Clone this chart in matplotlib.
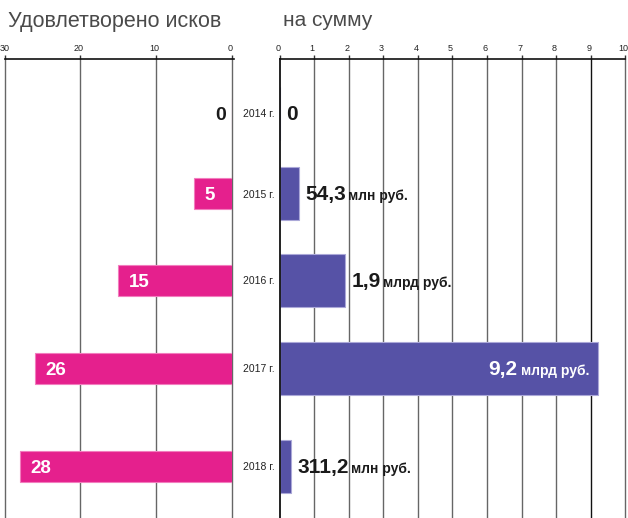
import matplotlib
matplotlib.use("Agg")
import matplotlib.pyplot as plt
from matplotlib.transforms import ScaledTranslation

plt.rcParams['font.family'] = ['Liberation Sans', 'DejaVu Sans']

# ---- data ----
years = ['2014 г.', '2015 г.', '2016 г.', '2017 г.', '2018 г.']
claims = [0, 5, 15, 26, 28]
amount_bar = [0, 0.55, 1.9, 9.2, 0.33]          # bar lengths as drawn (млрд руб. scale)
amount_num = ['0', '54,3', '1,9', '9,2', '311,2']
amount_unit = ['', 'млн руб.', 'млрд руб.', 'млрд руб.', 'млн руб.']
left_ticks = [30, 20, 10, 0]
right_ticks = list(range(0, 11))

# ---- layout ----
W, H = 628, 518
ROW_Y = [113, 193.5, 280.5, 368.5, 466.5]   # row centres (pixel-like y scale)
TOP = 59
PINK = '#E5208D'
PINK_EDGE = '#F27DBE'
PURPLE = '#5652A6'
PURPLE_EDGE = '#ABA8D8'
GRID = '#666666'

fig = plt.figure(figsize=(W / 100, H / 100), dpi=100)
fig.patch.set_facecolor('white')

axL = fig.add_axes([4.5 / W, 0, (232 - 4.5) / W, (H - TOP) / H])
axR = fig.add_axes([279.7 / W, 0, (625.2 - 279.7) / W, (H - TOP) / H])

for ax in (axL, axR):
    ax.set_ylim(H, TOP)
    ax.set_yticks([])
    for s in ('left', 'right', 'bottom'):
        ax.spines[s].set_visible(False)
    ax.spines['top'].set_linewidth(1.2)
    ax.spines['top'].set_color('#111111')
    ax.xaxis.tick_top()
    ax.tick_params(axis='x', length=3, width=1, color='#333333', pad=1,
                   labelsize=6.5, labelcolor='#222222', direction='out')
    ax.set_facecolor('none')

# left panel
axL.set_xlim(30, 0)
axL.set_xticks(left_ticks)
axL.spines['top'].set_bounds(30, -0.3)
for t in left_ticks:
    axL.axvline(t, color=GRID, lw=1.0, zorder=0, clip_on=False)
axL.barh(ROW_Y, claims, height=31, color=PINK, edgecolor=PINK_EDGE, lw=0.8, zorder=2)
for y, v in zip(ROW_Y, claims):
    if v == 0:
        axL.annotate(str(v), xy=(0, y), xytext=(-4, 0), textcoords='offset points',
                     ha='right', va='center_baseline', fontsize=14, fontweight='bold',
                     color='#1a1a1a')
    else:
        axL.annotate(str(v), xy=(v, y), xytext=(7.5, 0), textcoords='offset points',
                     ha='left', va='center_baseline', fontsize=13.5, fontweight='bold',
                     color='white', zorder=3)

# right panel
axR.set_xlim(0, 10)
axR.set_xticks(right_ticks)
for t in right_ticks[1:]:
    axR.axvline(t, color='#111111' if t == 9 else GRID, lw=1.0, zorder=0, clip_on=False)
axR.axvline(0, color='#111111', lw=1.3, zorder=3, clip_on=False)
axR.barh(ROW_Y, amount_bar, height=53, color=PURPLE, edgecolor=PURPLE_EDGE, lw=0.8, zorder=2)

# shift tick labels slightly left as in the reference (except the leftmost "30")
for ax in (axL, axR):
    for i, lab in enumerate(ax.get_xticklabels()):
        if ax is axL and i == 0:
            continue
        lab.set_transform(lab.get_transform() + ScaledTranslation(-2 / 100, 0, fig.dpi_scale_trans))

for y, yr in zip(ROW_Y, years):
    axR.annotate(yr, xy=(0, y), xytext=(-3.5, 0), textcoords='offset points',
                 ha='right', va='center_baseline', fontsize=7.5, color='#222222')

for y, v, num, unit in zip(ROW_Y, amount_bar, amount_num, amount_unit):
    inside = v > 5
    col = 'white' if inside else '#1a1a1a'
    if inside:
        u = axR.annotate(unit, xy=(v, y), xytext=(-6, -5), textcoords='offset points',
                         ha='right', va='baseline', fontsize=10, fontweight='bold',
                         color=col, zorder=4)
        axR.annotate(num, xy=(0, y), xycoords=(u, 'data'), xytext=(-2.5, -5),
                     textcoords='offset points', ha='right', va='baseline',
                     fontsize=15, fontweight='bold', color=col, zorder=4)
    else:
        n = axR.annotate(num, xy=(v, y), xytext=(4.5, -5), textcoords='offset points',
                         ha='left', va='baseline', fontsize=15, fontweight='bold',
                         color=col, zorder=4)
        if unit:
            axR.annotate(unit, xy=(1, y), xycoords=(n, 'data'), xytext=(1.5, -5),
                         textcoords='offset points', ha='left', va='baseline',
                         fontsize=10, fontweight='bold', color=col, zorder=4)

# titles
fig.text(8 / W, 1 - 21 / H, 'Удовлетворено исков', ha='left', va='center',
         fontsize=15.5, color='#4a4a4a')
fig.text(283 / W, 1 - 21 / H, 'на сумму', ha='left', va='center',
         fontsize=15, color='#4a4a4a')

fig.savefig('out.png', dpi=100, facecolor='white')
